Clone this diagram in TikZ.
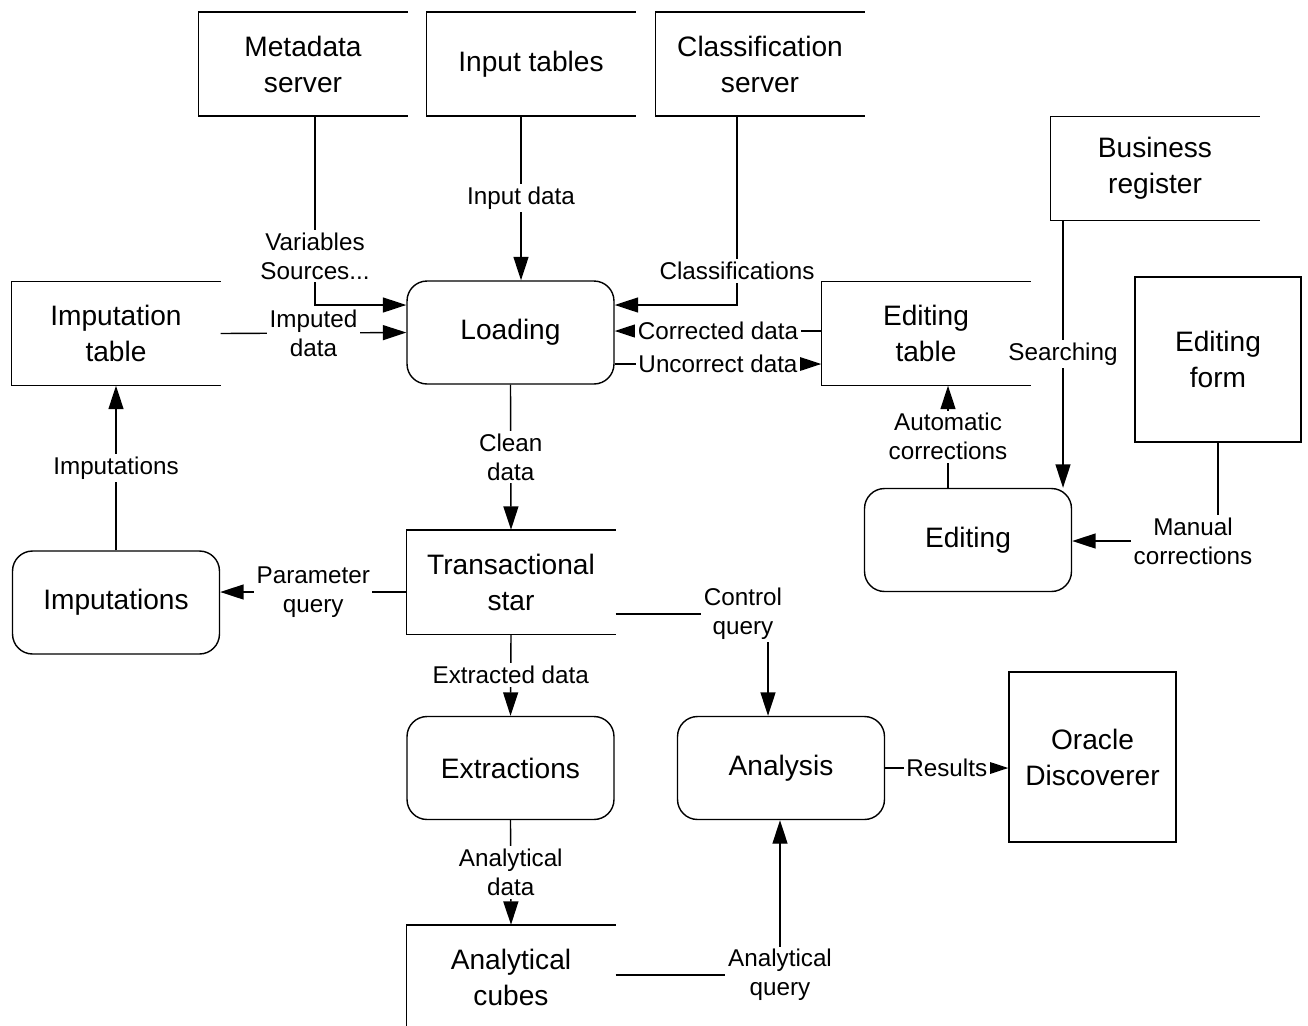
\documentclass[tikz,border=0pt]{standalone}
\usepackage{fontspec}
\setmainfont{Liberation Sans}
\usepackage{xcolor}
\usepackage{tikz}
\usetikzlibrary{arrows.meta}

\begin{document}
\begin{tikzpicture}[x=0.02cm, y=-0.02cm, line width=0.8pt, >={Triangle[length=0.47cm, width=0.3cm]}]
			\useasboundingbox (0, 0) rectangle (1308, 1025);
			
			\begin{scope}[
				store/.style={align=center, minimum width=4.16cm, minimum height=2.06cm, inner sep=2pt, font=\fontsize{16}{20.5}\selectfont},
				process/.style={store, draw, rounded corners=0.4cm, minimum width=4.14cm},
				entity/.style={store, draw}]
				\node[store] (MS) at (303, 64) {Metadata\\server};
				\node[store] (IT) at (531, 64) {Input tables};
				\node[store] (CS) at (760, 64) {Classification\\server};
				\node[store] (BR) at (1155, 168.5) {Business\\register};
				
				\node[store] (ImT) at (116, 333.5) {Imputation\\table};
				\node[store] (ET) at (926, 333.5) {Editing\\table};
				\node[store] (TS) at (511, 582) {Transactional\\star};
				\node[store] (AC) at (511, 977) {Analytical\\cubes};
				
				\node[process] (LO) at (510.5, 332.5) {Loading};
				\node[process] (IM) at (116, 602.5) {Imputations};
				\node[process] (ED) at (968, 540) {Editing};
				\node[process] (EX) at (510.5, 768) {Extractions};
				\node[process] (AN) at (781, 768) {Analysis};
				
				\node[entity, minimum width=3.32cm, minimum height=3.3cm] (EF) at (1218, 359.5) {Editing\\form};
				\node[entity, minimum width=3.34cm, minimum height=3.4cm] (OD) at (1092.5, 757) {Oracle\\Discoverer};
			\end{scope}
			
			\foreach \s in {MS, IT, CS, BR, ImT, ET, TS, AC}
				\draw (\s.north east) -- (\s.north west) -- (\s.south west) -- (\s.south east);
			
			\coordinate (VS) at (315, 305);
			\coordinate (ID) at (521, 0);
			\coordinate (CL) at (737, 305);
			\coordinate (CD) at (0, 331);
			\coordinate (UD) at (0, 364);
			\coordinate (PQ) at (0, 592);
			\coordinate (CQ) at (768, 614);
			\coordinate (AQ) at (780, 975);
			\coordinate (SR) at (1063, 0);
			\coordinate (AU) at (948, 0);
			\coordinate (MC) at (1218, 541);
			
			\begin{scope}[lbl/.style={fill=white, inner sep=1.5pt, align=center, font=\fontsize{13.8}{16.5}\selectfont}]
				\draw[->] (MS.south -| VS) -- node[lbl, pos=0.74] {Variables\\Sources...} (VS) -- (VS -| LO.west);
				\draw[->] (IT.south -| ID) -- node[lbl] {Input data} (LO.north -| ID);
				\draw[->] (CS.south -| CL) -- node[lbl, pos=0.82] {Classifications} (CL) -- (CL -| LO.east);
				\draw[->] (ImT.east) -- node[lbl] {Imputed\\data} (LO.west);
				\draw[->] (ET.west |- CD) -- node[lbl] {Corrected data} (LO.east |- CD);
				\draw[->] (LO.east |- UD) -- node[lbl] {Uncorrect data} (ET.west |- UD);
				\draw[->] (LO.south) -- node[lbl] {Clean\\data} (TS.north);
				\draw[->] (TS.west |- PQ) -- node[lbl] {Parameter\\query} (IM.east |- PQ);
				\draw[->] (IM.north) -- node[lbl] {Imputations} (ImT.south);
				\draw[->] (TS.east |- CQ) -- (CQ) node[lbl, xshift=-0.5cm] {Control\\query} -- (AN.north -| CQ);
				\draw[->] (TS.south) -- node[lbl] {Extracted data} (EX.north);
				\draw[->] (EX.south) -- node[lbl] {Analytical\\data} (AC.north);
				\draw[->] (AC.east |- AQ) -- (AQ) node[lbl] {Analytical\\query} -- (AN.south -| AQ);
				\draw[->] (AN.east) -- node[lbl] {Results} (AN.east -| OD.west);
				\draw[->] (BR.south -| SR) -- node[lbl] {Searching} (ED.north -| SR);
				\draw[->] (ED.north -| AU) -- node[lbl] {Automatic\\corrections} (ET.south -| AU);
				\draw[->] (EF.south) -- (MC) node[lbl, xshift=-0.5cm] {Manual\\corrections} -- (MC -| ED.east);
			\end{scope}
		\end{tikzpicture}
\end{document}
